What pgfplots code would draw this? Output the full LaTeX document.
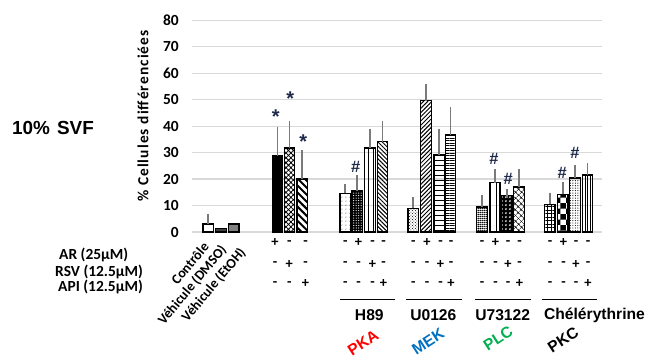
\documentclass[border=0pt]{standalone}
\usepackage{pgfplots}
\pgfplotsset{compat=1.18}
\usepackage{fontspec}
\setmainfont{Carlito}
\newfontfamily\arial{Liberation Sans}
\usetikzlibrary{patterns,patterns.meta}
\definecolor{gridc}{HTML}{D9D9D9}
\definecolor{errc}{HTML}{7A7A7A}
\definecolor{starc}{HTML}{1F2A4A}
\definecolor{pka}{HTML}{FF0000}
\definecolor{mek}{HTML}{0070C0}
\definecolor{plc}{HTML}{00B050}
\begin{document}
\begin{tikzpicture}
\begin{axis}[
  at={(192bp,-232bp)}, anchor=south west,
  scale only axis, width=410bp, height=211.7bp,
  xmin=192, xmax=602, ymin=0, ymax=80,
  axis line style={draw=none},
  xtick=\empty, ytick={0,10,...,80},
  major tick length=0pt,
  ymajorgrids, grid style={gridc, line width=1.2bp},
  /pgf/number format/assume math mode=true,
  yticklabel style={anchor=east, inner sep=0pt, xshift=-13bp, font=\bfseries\fontsize{15.5}{16}\selectfont},
  every axis plot/.append style={ybar, bar width=10.5, bar shift=0pt, draw=black, line width=1.3bp,
    error bars/y dir=plus, error bars/y explicit,
    error bars/error mark=-,
    error bars/error bar style={errc, line width=1.7bp},
    error bars/error mark options={errc, line width=1.7bp, mark size=4.2bp}},
  clip=false,
]
% control group
\addplot[fill=white] coordinates {(208.3,3.0) +- (0,2.4)};
\addplot[fill=black!75] coordinates {(221,1.4)};
\addplot[fill=black!50] coordinates {(233.8,3.0)};
% AR RSV API
\addplot[fill=black] coordinates {(277.5,28.9) +- (0,9.1)};
\addplot[pattern={Hatch[angle=45,distance=3.5pt,line width=0.8pt]}] coordinates {(289.5,31.7) +- (0,8.8)};
\addplot[pattern={Lines[angle=-45,distance=5pt,line width=2pt]}] coordinates {(302.3,20.0) +- (0,9.3)};
% H89
\addplot[pattern={Dots[radius=0.5pt,distance=4pt]}] coordinates {(345.3,14.6) +- (0,1.8)};
\addplot[fill=black, postaction={pattern={Dots[radius=0.6pt,distance=2.5pt]}, pattern color=white}] coordinates {(357.2,15.5) +- (0,4.3)};
\addplot[pattern={Lines[angle=90,distance=5pt,line width=0.8pt]}] coordinates {(370,31.7) +- (0,5.6)};
\addplot[pattern={Lines[angle=-45,distance=3pt,line width=1pt]}] coordinates {(382.5,34.1) +- (0,6.4)};
% U0126
\addplot[pattern=crosshatch dots] coordinates {(413.3,8.9) +- (0,2.7)};
\addplot[pattern={Lines[angle=45,distance=3pt,line width=1pt]}] coordinates {(426,49.6) +- (0,4.7)};
\addplot[pattern={Lines[angle=0,distance=5pt,line width=1pt]}] coordinates {(439.2,29.1) +- (0,8.4)};
\addplot[pattern={Lines[angle=0,distance=2.5pt,line width=0.8pt]}] coordinates {(450.5,36.7) +- (0,8.8)};
% U73122
\addplot[pattern={Dots[radius=0.8pt,distance=2pt]}] coordinates {(482,9.5) +- (0,2.8)};
\addplot[pattern={Lines[angle=90,distance=6pt,line width=0.8pt]}] coordinates {(494.7,18.7) +- (0,3.4)};
\addplot[fill=black, postaction={pattern={Dots[radius=1pt,distance=4pt]}, pattern color=white}] coordinates {(506.7,13.9) +- (0,0.6)};
\addplot[pattern={Hatch[angle=45,distance=4pt,line width=0.6pt]}] coordinates {(519,17.0) +- (0,5.1)};
% Chelerythrine
\addplot[pattern={Hatch[angle=0,distance=3.5pt,line width=0.8pt]}] coordinates {(550,10.5) +- (0,2.8)};
\addplot[pattern=checkerboard] coordinates {(562.8,14.2) +- (0,3.2)};
\addplot[pattern={Dots[radius=0.6pt,distance=2.5pt]}] coordinates {(575,20.4) +- (0,3.3)};
\addplot[pattern={Lines[angle=90,distance=2.5pt,line width=0.8pt]}] coordinates {(587.5,21.5) +- (0,2.9)};
\end{axis}
\begin{scope}[x=1bp,y=-1bp]
\path[use as bounding box] (0,0) rectangle (656,360);
\node[anchor=west, inner sep=0pt] at (12,128) {\arial\bfseries\fontsize{19}{19}\selectfont 10\%\hspace{7bp}SVF};
\node[rotate=90, inner sep=0pt] at (143,116) {\bfseries\fontsize{15.5}{16}\selectfont\addfontfeature{LetterSpace=7}\% Cellules différenciées};
\begin{scope}[font=\bfseries\fontsize{15.5}{16}\selectfont]
\node[anchor=west, inner sep=0pt] at (59,255) {AR (25µM)};
\node[anchor=west, inner sep=0pt] at (55,271.7) {RSV (12.5µM)};
\node[anchor=west, inner sep=0pt] at (58,286.7) {API (12.5µM)};
\end{scope}
\begin{scope}[font=\bfseries\fontsize{14}{15}\selectfont]
\node[rotate=50, anchor=east, inner sep=0pt] at (206,244) {Contrôle};
\node[rotate=50, anchor=east, inner sep=0pt] at (224,247.5) {Véhicule (DMSO)};
\node[rotate=50, anchor=east, inner sep=0pt] at (243,250) {Véhicule (EtOH)};
\end{scope}
\begin{scope}[font=\bfseries\fontsize{14.5}{15}\selectfont]
% signs
\foreach \x/\a/\b/\c in {275/+/-/-, 289.3/-/+/-, 305.5/-/-/+,
  345.3/-/-/-, 358.5/+/-/-, 372.5/-/+/-, 383.5/-/-/+,
  413.3/-/-/-, 427/+/-/-, 440.5/-/+/-, 451/-/-/+,
  482/-/-/-, 495.5/+/-/-, 508/-/+/-, 519.5/-/-/+,
  550/-/-/-, 563.5/+/-/-, 576/-/+/-, 588/-/-/+}{
  \node at (\x,242.7) {\a};
  \node at (\x,264.3) {\b};
  \node at (\x,283.7) {\c};
}
\end{scope}
\foreach \a/\b in {340/395, 406/461.7, 475/530.7, 541.7/597}{
  \draw[line width=1.3bp] (\a,299.3) -- (\b,299.3);
}
\begin{scope}[font=\arial\bfseries\fontsize{15.7}{16}\selectfont]
\node at (369.3,315) {H89};
\node at (433.3,315) {U0126};
\node at (502.7,315) {U73122};
\node at (594.5,315) {Chélérythrine};
\node[rotate=33, text=pka] at (363,343) {PKA};
\node[rotate=33, text=mek] at (428,341.7) {MEK};
\node[rotate=33, text=plc] at (498,338) {PLC};
\node[rotate=33, text=black] at (563,340) {PKC};
\end{scope}
\begin{scope}[text=starc, inner sep=0pt]
\node[anchor=base, font=\arial\bfseries\fontsize{20}{20}\selectfont] at (275.7,123.3) {*};
\node[anchor=base, font=\arial\bfseries\fontsize{20}{20}\selectfont] at (290.3,105.9) {*};
\node[anchor=base, font=\arial\bfseries\fontsize{20}{20}\selectfont] at (303.3,148.3) {*};
\node[anchor=base, font=\arial\bfseries\fontsize{16.5}{17}\selectfont] at (355.7,172.4) {\#};
\node[anchor=base, font=\arial\bfseries\fontsize{16.5}{17}\selectfont] at (494,164.7) {\#};
\node[anchor=base, font=\arial\bfseries\fontsize{16.5}{17}\selectfont] at (508.3,184.7) {\#};
\node[anchor=base, font=\arial\bfseries\fontsize{16.5}{17}\selectfont] at (562.3,178) {\#};
\node[anchor=base, font=\arial\bfseries\fontsize{16.5}{17}\selectfont] at (575,158.4) {\#};
\end{scope}
\end{scope}
\end{tikzpicture}
\end{document}
